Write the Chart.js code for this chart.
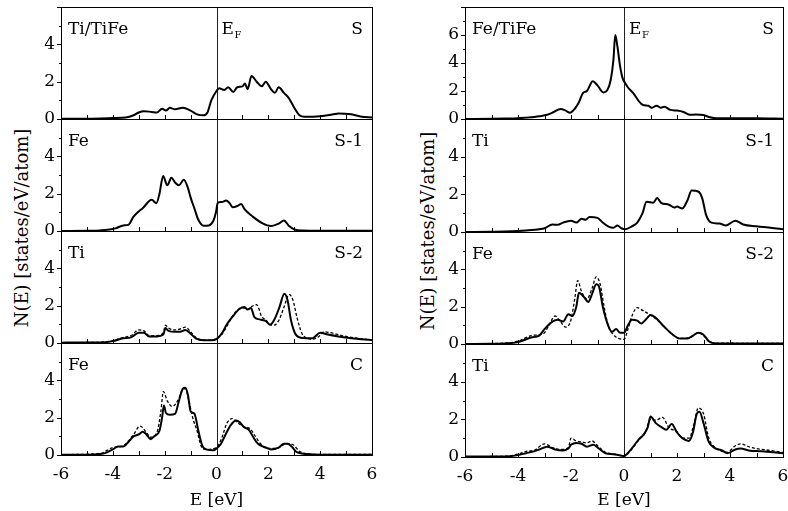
<!DOCTYPE html>
<html><head><meta charset="utf-8">
<script src="https://cdn.jsdelivr.net/npm/chart.js@4.4.0/dist/chart.umd.min.js"></script>
<style>
html,body{margin:0;padding:0;background:#fff;}
body{width:788px;height:511px;position:relative;overflow:hidden;font-family:"DejaVu Serif","Liberation Serif",serif;color:#000;}
canvas{position:absolute;}
.ytitle{position:absolute;width:320px;height:24px;line-height:24px;text-align:center;font-size:18px;transform:rotate(-90deg);white-space:nowrap;}
</style></head><body>
<div class="ytitle" id="yt0"></div>
<div class="ytitle" id="yt1"></div>
<script>
// ---- text / ticks ----
const X_TICKS = [-6,-4,-2,0,2,4,6];
const Y_TICKS_6 = [0,2,4];
const Y_TICKS_8 = [0,2,4,6];
const Y_TITLE = 'N(E) [states/eV/atom]';
const X_TITLE = 'E [eV]';
const LEFT_COL_ATOMS = ['Ti/TiFe','Fe','Ti','Fe'];
const RIGHT_COL_ATOMS = ['Fe/TiFe','Ti','Fe','Ti'];
const LAYERS = ['S','S-1','S-2','C'];

// ---- data: [E (eV), N(E)] ----
const L_S = [[-6,0.02],[-5,0.02],[-4.5,0.03],[-4,0.05],[-3.5,0.08],[-3.2,0.2],[-3,0.35],[-2.8,0.42],[-2.5,0.38],[-2.3,0.35],[-2.1,0.55],[-1.95,0.45],[-1.8,0.6],[-1.6,0.52],[-1.3,0.6],[-1,0.45],[-0.75,0.25],[-0.5,0.2],[-0.35,0.35],[-0.2,1.0],[0,1.5],[0.1,1.65],[0.3,1.55],[0.45,1.7],[0.65,1.45],[0.8,1.7],[1,1.75],[1.1,1.9],[1.2,1.6],[1.35,2.3],[1.55,2.0],[1.75,1.75],[1.9,2.0],[2.1,1.6],[2.25,1.4],[2.4,1.7],[2.6,1.4],[2.8,1.1],[3,0.6],[3.2,0.2],[3.4,0.12],[4,0.15],[4.5,0.25],[4.7,0.3],[5.2,0.25],[5.6,0.12],[6,0.08]];
const L_S1 = [[-6,0],[-5,0.01],[-4.5,0.03],[-3.9,0.14],[-3.6,0.3],[-3.4,0.33],[-3.2,0.77],[-2.83,1.25],[-2.5,1.67],[-2.32,1.49],[-2.2,2.0],[-2.06,2.95],[-1.9,2.45],[-1.74,2.85],[-1.6,2.6],[-1.45,2.45],[-1.26,2.75],[-1.1,2.3],[-1.0,1.8],[-0.85,1.2],[-0.7,0.6],[-0.5,0.28],[-0.3,0.3],[-0.12,0.55],[-0.02,1.0],[0.05,1.52],[0.2,1.55],[0.37,1.63],[0.5,1.5],[0.63,1.27],[0.82,1.35],[0.95,1.45],[1.08,1.17],[1.4,0.77],[1.78,0.41],[2.1,0.27],[2.42,0.41],[2.6,0.56],[2.8,0.27],[3.0,0.09],[3.3,0.03],[4,0.02],[6,0.02]];
const L_S2 = [[-6,0.02],[-4.5,0.03],[-4,0.1],[-3.6,0.25],[-3.3,0.3],[-3.0,0.55],[-2.8,0.55],[-2.6,0.35],[-2.3,0.35],[-2.05,0.45],[-1.97,0.8],[-1.85,0.65],[-1.6,0.6],[-1.4,0.6],[-1.2,0.7],[-1.0,0.5],[-0.8,0.25],[-0.5,0.15],[-0.2,0.15],[0,0.21],[0.2,0.5],[0.4,1.0],[0.63,1.43],[0.88,1.82],[1.08,1.93],[1.2,1.79],[1.33,1.88],[1.46,1.39],[1.72,1.25],[1.9,1.18],[2.06,0.98],[2.23,1.25],[2.42,1.88],[2.62,2.64],[2.74,2.3],[2.87,1.25],[3.06,0.45],[3.32,0.27],[3.7,0.25],[4.0,0.55],[4.3,0.45],[4.7,0.35],[5.2,0.25],[6,0.15]];
const L_S2_dash = [[-6,0.02],[-4.5,0.04],[-4,0.12],[-3.6,0.3],[-3.3,0.4],[-3.0,0.7],[-2.8,0.65],[-2.6,0.4],[-2.3,0.4],[-2.05,0.55],[-1.97,0.95],[-1.85,0.8],[-1.6,0.7],[-1.4,0.75],[-1.2,0.85],[-1.0,0.6],[-0.8,0.3],[-0.5,0.15],[-0.2,0.15],[0,0.25],[0.2,0.45],[0.4,0.9],[0.6,1.4],[0.8,1.75],[1.0,1.9],[1.2,1.8],[1.35,1.95],[1.55,2.05],[1.75,1.4],[1.9,1.25],[2.0,1.05],[2.2,0.95],[2.4,1.2],[2.6,1.9],[2.8,2.6],[2.95,2.3],[3.1,1.4],[3.3,0.5],[3.5,0.25],[3.7,0.2],[3.95,0.35],[4.15,0.6],[4.4,0.55],[5,0.35],[6,0.15]];
const L_C = [[-6,0.02],[-5,0.02],[-4.5,0.05],[-4.3,0.1],[-4.0,0.3],[-3.8,0.45],[-3.6,0.45],[-3.4,0.7],[-3.2,1.0],[-3.0,1.1],[-2.85,1.25],[-2.7,1.1],[-2.55,0.85],[-2.4,1.0],[-2.2,1.3],[-2.1,2.0],[-2.03,2.65],[-1.95,2.25],[-1.8,2.15],[-1.6,2.2],[-1.45,2.9],[-1.3,3.55],[-1.2,3.6],[-1.1,3.2],[-1.0,2.35],[-0.85,2.2],[-0.7,1.3],[-0.55,0.5],[-0.4,0.3],[-0.1,0.25],[0,0.35],[0.15,0.55],[0.35,1.1],[0.55,1.6],[0.75,1.85],[0.9,1.75],[1.05,1.5],[1.25,1.35],[1.4,1.0],[1.6,0.6],[1.9,0.4],[2.1,0.3],[2.4,0.4],[2.6,0.6],[2.75,0.6],[2.9,0.45],[3.1,0.15],[3.5,0.05],[4,0.02],[6,0.02]];
const L_C_dash = [[-6,0.02],[-4.5,0.08],[-4.0,0.4],[-3.6,0.5],[-3.2,1.1],[-2.95,1.55],[-2.7,1.2],[-2.55,0.95],[-2.3,1.2],[-2.15,2.3],[-2.05,3.4],[-1.9,2.9],[-1.7,2.6],[-1.5,2.9],[-1.3,3.5],[-1.2,3.55],[-1.05,2.8],[-0.9,1.9],[-0.75,1.3],[-0.6,0.5],[-0.4,0.3],[0,0.4],[0.2,0.9],[0.4,1.7],[0.6,1.95],[0.8,1.75],[1.0,1.55],[1.3,1.4],[1.5,1.0],[1.7,0.6],[2.0,0.35],[2.4,0.4],[2.7,0.6],[2.95,0.55],[3.2,0.2],[3.6,0.05],[4,0.03],[6,0.03]];

const R_S = [[-6,0],[-5,0.01],[-4.5,0.03],[-4,0.06],[-3.5,0.12],[-3.2,0.2],[-2.9,0.3],[-2.65,0.5],[-2.4,0.72],[-2.2,0.6],[-2.04,0.45],[-1.85,0.75],[-1.7,1.2],[-1.55,1.85],[-1.4,2.0],[-1.18,2.7],[-1.0,2.4],[-0.78,1.9],[-0.62,2.1],[-0.5,2.8],[-0.4,4.2],[-0.33,6.0],[-0.25,5.2],[-0.15,3.8],[-0.05,2.9],[0.05,2.55],[0.15,2.25],[0.35,1.85],[0.55,1.3],[0.72,1.0],[0.92,0.95],[1.04,0.8],[1.23,0.95],[1.4,0.8],[1.52,0.88],[1.75,0.65],[2.0,0.6],[2.25,0.5],[2.5,0.3],[2.7,0.32],[3.0,0.28],[3.25,0.12],[3.5,0.05],[5,0.05],[6,0.02]];
const R_S1 = [[-6,0],[-5,0.01],[-4.5,0.02],[-4,0.05],[-3.5,0.1],[-3.2,0.15],[-3.0,0.2],[-2.7,0.4],[-2.5,0.38],[-2.3,0.5],[-2.0,0.6],[-1.8,0.5],[-1.6,0.7],[-1.45,0.65],[-1.3,0.8],[-1.0,0.75],[-0.8,0.5],[-0.6,0.3],[-0.4,0.22],[-0.25,0.35],[-0.1,0.2],[0.05,0.15],[0.3,0.3],[0.5,0.5],[0.7,1.0],[0.85,1.6],[1.1,1.55],[1.25,1.8],[1.4,1.55],[1.7,1.45],[1.9,1.3],[2.0,1.35],[2.2,1.25],[2.4,1.7],[2.55,2.2],[2.8,2.15],[2.95,1.8],[3.1,0.9],[3.3,0.5],[3.6,0.45],[3.85,0.35],[4.2,0.6],[4.5,0.4],[5.0,0.3],[6,0.15]];
const R_S2 = [[-6,0],[-5,0.01],[-4.5,0.03],[-4,0.1],[-3.5,0.35],[-3.2,0.45],[-3,0.8],[-2.7,1.2],[-2.5,1.3],[-2.3,1.2],[-2.1,1.6],[-1.95,1.5],[-1.8,2.0],[-1.7,2.75],[-1.5,2.5],[-1.35,2.25],[-1.2,2.7],[-1.05,3.2],[-0.95,3.1],[-0.8,2.0],[-0.6,1.0],[-0.45,0.65],[-0.3,0.8],[-0.15,0.6],[0,0.6],[0.15,1.0],[0.3,1.3],[0.5,1.25],[0.65,1.1],[0.85,1.35],[1.0,1.55],[1.2,1.4],[1.5,0.95],[1.8,0.55],[2.1,0.3],[2.4,0.3],[2.6,0.45],[2.8,0.6],[3.0,0.5],[3.2,0.15],[3.5,0.03],[6,0.03]];
const R_S2_dash = [[-6,0],[-4.5,0.05],[-4,0.15],[-3.5,0.45],[-3.2,0.5],[-3,0.6],[-2.8,1.1],[-2.6,1.5],[-2.4,1.2],[-2.2,0.9],[-2.0,1.3],[-1.85,2.5],[-1.75,3.4],[-1.6,2.8],[-1.4,2.4],[-1.2,3.0],[-1.05,3.6],[-0.9,3.2],[-0.75,2.0],[-0.6,1.0],[-0.4,0.5],[-0.2,0.3],[0,0.25],[0.15,0.8],[0.3,1.5],[0.5,1.95],[0.7,1.8],[1.0,1.55],[1.2,1.35],[1.5,0.95],[1.8,0.55],[2.1,0.3],[2.5,0.35],[2.8,0.6],[3.0,0.45],[3.2,0.15],[3.5,0.05],[6,0.03]];
const R_C = [[-6,0.02],[-4.5,0.03],[-4.0,0.1],[-3.7,0.2],[-3.4,0.3],[-3.2,0.4],[-2.9,0.55],[-2.6,0.4],[-2.3,0.35],[-2.1,0.45],[-2.0,0.65],[-1.8,0.75],[-1.6,0.7],[-1.4,0.55],[-1.15,0.65],[-0.95,0.45],[-0.7,0.2],[-0.4,0.15],[-0.2,0.1],[0,0.05],[0.2,0.3],[0.4,0.65],[0.6,1.0],[0.75,1.2],[0.9,1.6],[1.0,2.15],[1.2,1.8],[1.4,1.6],[1.6,1.45],[1.8,1.75],[2.0,1.3],[2.2,1.0],[2.45,0.85],[2.6,1.3],[2.75,2.3],[2.85,2.4],[3.0,1.8],[3.2,0.8],[3.4,0.5],[3.7,0.35],[3.9,0.2],[4.2,0.4],[4.4,0.45],[4.7,0.35],[5.2,0.3],[6,0.2]];
const R_C_dash = [[-6,0.02],[-4.5,0.04],[-4.0,0.15],[-3.7,0.3],[-3.4,0.35],[-3.0,0.7],[-2.7,0.5],[-2.4,0.4],[-2.1,0.5],[-2.0,1.0],[-1.8,0.85],[-1.6,0.8],[-1.4,0.75],[-1.2,0.85],[-1.0,0.6],[-0.7,0.25],[-0.3,0.15],[0,0.05],[0.2,0.25],[0.5,0.8],[0.8,1.3],[1.0,2.0],[1.2,1.95],[1.45,2.1],[1.7,1.55],[2.0,1.35],[2.2,1.0],[2.45,1.0],[2.65,1.8],[2.8,2.6],[3.0,2.3],[3.2,1.0],[3.4,0.55],[3.7,0.3],[3.9,0.25],[4.2,0.6],[4.4,0.7],[4.8,0.5],[5.5,0.35],[6,0.25]];

// ---- layout ----
const FONT = '"DejaVu Serif", "Liberation Serif", serif';
const FS = 17;
const YW = 50;
const RP = 14;
const BP = 12;
const COLS = [
  {L:61, R:372, bounds:[7,119,231,343,455], titleX:22, titleY:228},
  {L:465, R:783, bounds:[7,119,232,344,457], titleX:428, titleY:231}
];

const panelPlugin = {
  id: 'panelDeco',
  beforeDatasetsDraw(chart) {
    const {ctx, chartArea:a, scales:{x}} = chart;
    const px = Math.round(x.getPixelForValue(0)) + 0.5;
    ctx.save();
    ctx.strokeStyle = '#222'; ctx.lineWidth = 1;
    ctx.beginPath(); ctx.moveTo(px, a.top); ctx.lineTo(px, a.bottom); ctx.stroke();
    ctx.restore();
  },
  afterDraw(chart, args, o) {
    const {ctx, chartArea:a, scales:{x,y}} = chart;
    ctx.save();
    ctx.strokeStyle = '#000'; ctx.lineWidth = 1;
    ctx.strokeRect(a.left + 0.5, a.top + 0.5, a.right - a.left, a.bottom - a.top);
    ctx.beginPath();
    for (let e = -5; e <= 5; e++) {
      const p = Math.round(x.getPixelForValue(e)) + 0.5;
      ctx.moveTo(p, a.bottom); ctx.lineTo(p, a.bottom - 4);
    }
    for (let v = 0; v <= y.max; v++) {
      const p = Math.round(y.getPixelForValue(v)) + 0.5;
      ctx.moveTo(a.left, p); ctx.lineTo(a.left - (v % 2 === 0 ? 4 : 2), p);
    }
    ctx.stroke();
    ctx.fillStyle = '#000';
    ctx.font = FS + 'px ' + FONT;
    ctx.textBaseline = 'alphabetic';
    ctx.textAlign = 'left';
    ctx.fillText(o.atom, a.left + 7, a.top + 27);
    ctx.textAlign = 'right';
    ctx.fillText(o.layer, a.right - 9, a.top + 27);
    if (o.ef) {
      const px = x.getPixelForValue(0);
      ctx.textAlign = 'left';
      ctx.fillText('E', px + 5, a.top + 27);
      const w = ctx.measureText('E').width;
      ctx.font = '10px ' + FONT;
      ctx.fillText('F', px + 5 + w + 0.5, a.top + 31);
    }
    ctx.restore();
  }
};

function toXY(arr) { return arr.map(p => ({x: p[0], y: p[1]})); }

function panel(col, i, solid, dashed, yMax, yTicks, atom, layer) {
  const c = COLS[col];
  const top = c.bounds[i], bot = c.bounds[i+1];
  const isBottom = (i === 3);
  const cTop = top - 2;
  const cH = isBottom ? 511 - cTop : (bot - top) + 2 + BP;
  const cLeft = c.L - YW;
  const cW = YW + (c.R - c.L) + RP;
  const cv = document.createElement('canvas');
  cv.width = cW; cv.height = cH;
  cv.style.left = cLeft + 'px'; cv.style.top = cTop + 'px';
  cv.style.width = cW + 'px'; cv.style.height = cH + 'px';
  document.body.appendChild(cv);
  const datasets = [{
    data: toXY(solid), borderColor: '#000', borderWidth: 2, pointRadius: 0,
    cubicInterpolationMode: 'monotone', fill: false, order: 0
  }];
  if (dashed) datasets.push({
    data: toXY(dashed), borderColor: '#000', borderWidth: 1.3, borderDash: [3, 2], pointRadius: 0,
    cubicInterpolationMode: 'monotone', fill: false, order: 1
  });
  const xScale = {
    type: 'linear', min: -6, max: 6, display: isBottom,
    afterBuildTicks: s => { s.ticks = X_TICKS.map(v => ({value: v})); },
    grid: {display: false, drawTicks: false},
    border: {display: false},
    ticks: {color: '#000', font: {family: FONT, size: FS}, padding: 9, maxRotation: 0, autoSkip: false},
    title: {display: true, text: X_TITLE, color: '#000', font: {family: FONT, size: FS}, padding: {top: 0, bottom: 0}}
  };
  if (isBottom) xScale.afterFit = s => { s.height = 511 - bot; s.paddingLeft = 0; s.paddingRight = 0; };
  new Chart(cv, {
    type: 'line',
    data: {datasets},
    plugins: [panelPlugin],
    options: {
      responsive: false, animation: false, devicePixelRatio: 1,
      layout: {padding: {top: 2, bottom: isBottom ? 0 : BP, left: 0, right: RP}},
      plugins: {legend: {display: false}, tooltip: {enabled: false},
        panelDeco: {atom, layer, ef: i === 0}},
      scales: {
        x: xScale,
        y: {
          type: 'linear', min: 0, max: yMax,
          afterBuildTicks: s => { s.ticks = yTicks.map(v => ({value: v})); },
          afterFit: s => { s.width = YW; s.paddingTop = 0; s.paddingBottom = 0; },
          grid: {display: false, drawTicks: false},
          border: {display: false},
          ticks: {color: '#000', font: {family: FONT, size: FS}, padding: 6}
        }
      }
    }
  });
}

panel(0, 0, L_S, null, 6, Y_TICKS_6, LEFT_COL_ATOMS[0], LAYERS[0]);
panel(0, 1, L_S1, null, 6, Y_TICKS_6, LEFT_COL_ATOMS[1], LAYERS[1]);
panel(0, 2, L_S2, L_S2_dash, 6, Y_TICKS_6, LEFT_COL_ATOMS[2], LAYERS[2]);
panel(0, 3, L_C, L_C_dash, 6, Y_TICKS_6, LEFT_COL_ATOMS[3], LAYERS[3]);
panel(1, 0, R_S, null, 8, Y_TICKS_8, RIGHT_COL_ATOMS[0], LAYERS[0]);
panel(1, 1, R_S1, null, 6, Y_TICKS_6, RIGHT_COL_ATOMS[1], LAYERS[1]);
panel(1, 2, R_S2, R_S2_dash, 6, Y_TICKS_6, RIGHT_COL_ATOMS[2], LAYERS[2]);
panel(1, 3, R_C, R_C_dash, 6, Y_TICKS_6, RIGHT_COL_ATOMS[3], LAYERS[3]);

[0, 1].forEach(k => {
  const d = document.getElementById('yt' + k);
  const c = COLS[k];
  d.textContent = Y_TITLE;
  d.style.left = (c.titleX - 160) + 'px';
  d.style.top = (c.titleY - 12) + 'px';
});
</script>
</body></html>
